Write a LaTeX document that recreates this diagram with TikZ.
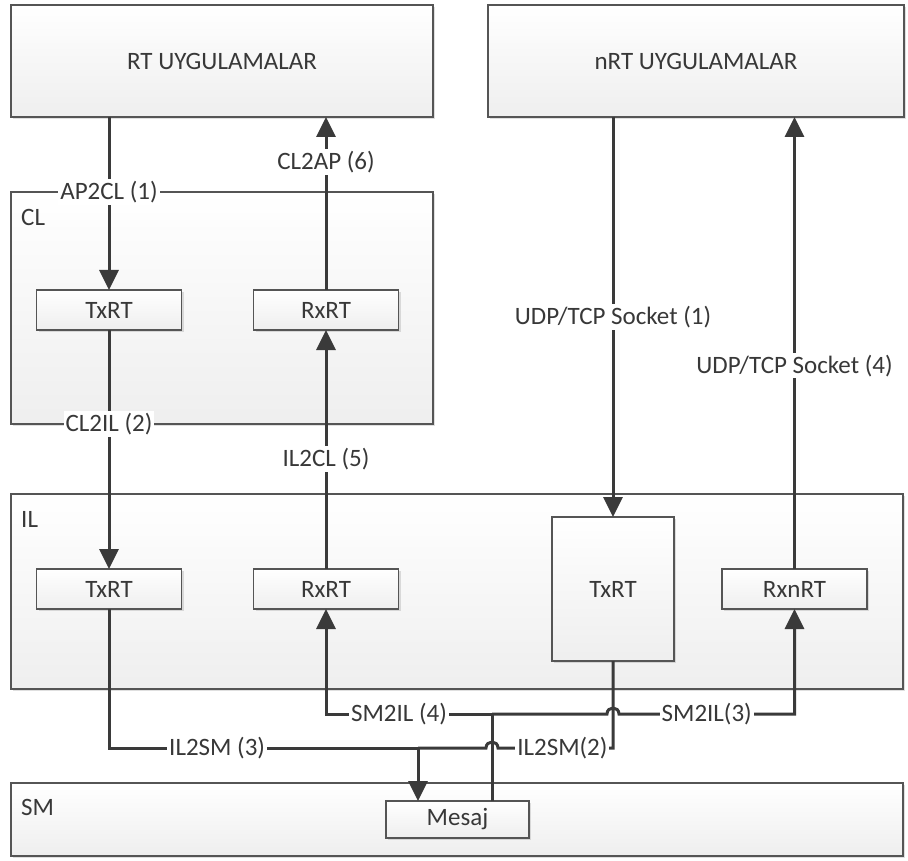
\documentclass[tikz,border=0pt]{standalone}
\usepackage{fontspec}
\setmainfont{Carlito}
\usetikzlibrary{positioning, arrows.meta, shadows}

\definecolor{line_gray}{HTML}{3A3A3A}
\definecolor{border_gray}{HTML}{555555}
\definecolor{text_gray}{HTML}{383838}

\begin{document}
\begin{tikzpicture}[
        x=1pt, y=-1pt,
        font=\fontsize{25}{29}\selectfont, text=text_gray,
        % Define styles for the nodes
        base_node/.style={draw=border_gray, line width=1.4pt, top color=white, bottom color=gray!13, inner sep=0pt, outer sep=0pt,
            drop shadow={shadow xshift=2pt, shadow yshift=-2pt, opacity=0.25, fill=gray}},
        app_box/.style={base_node, minimum height=112pt},
        layer_box/.style={base_node, minimum width=892pt},
        unit_box/.style={base_node, minimum width=145pt, minimum height=40pt},
        layer_title/.style={anchor=north west, inner sep=0pt},
        link/.style={draw=line_gray, line width=3pt},
        arrow/.style={link, -{Triangle[length=20pt, width=19pt]}},
        link_label/.style={fill=white, inner sep=2pt}
    ]
    \useasboundingbox (0,0) rectangle (908,861);

    % ==============================================
    % === SCOPE FOR LAYERS (applications, CL, IL, SM) ===
    % ==============================================
    \begin{scope}
        \node (rtapp) [app_box, minimum width=422pt] at (222,61) {RT UYGULAMALAR};
        \node (nrtapp) [app_box, minimum width=416pt] at (696,61) {nRT UYGULAMALAR};

        \node (cl) [base_node, minimum width=422pt, minimum height=232pt] at (222,308) {};
        \node (il) [layer_box, minimum height=195pt] at (457,591.5) {};
        \node (sm) [layer_box, minimum height=73pt] at (457,819.5) {};

        \node (cl_title) [layer_title] at ([xshift=10pt, yshift=-17pt]cl.north west) {CL};
        \node (il_title) [layer_title] at ([xshift=10pt, yshift=-17pt]il.north west) {IL};
        \node (sm_title) [layer_title] at ([xshift=10pt, yshift=-16pt]sm.north west) {SM};
    \end{scope}

    % ===============================================
    % === SCOPE FOR UNITS (TxRT, RxRT, RxnRT, Mesaj) ===
    % ===============================================
    \begin{scope}
        \node (cltx) [unit_box] at (109,310) {TxRT};
        \node (clrx) [unit_box, right=72pt of cltx] {RxRT};

        \node (iltx) [unit_box, below=239pt of cltx] {TxRT};
        \node (ilrx) [unit_box, right=72pt of iltx] {RxRT};

        \node (nrttx) [base_node, minimum width=122pt, minimum height=144pt] at (613,589) {TxRT};
        \node (rxnrt) [unit_box, right=48pt of nrttx] {RxnRT};

        \node (mesaj) [unit_box, minimum width=143pt, minimum height=37pt] at (457.5,819.5) {Mesaj};
    \end{scope}

    % ===============================================
    % === CONNECTORS ===
    % ===============================================
    % RT path through CL
    \draw [arrow] (cltx.north |- rtapp.south) -- (cltx.north |- cl.north) node [link_label] {AP2CL (1)} -- (cltx.north);
    \draw [arrow] (clrx.north) -- node [link_label, pos=0.74] {CL2AP (6)} (clrx.north |- rtapp.south);
    \draw [arrow] (cltx.south) -- (cltx.south |- cl.south) node [link_label] {CL2IL (2)} -- (iltx.north);
    \draw [arrow] (ilrx.north) -- node [link_label, pos=0.46] {IL2CL (5)} (clrx.south);

    % nRT sockets
    \draw [arrow] (nrttx.north |- nrtapp.south) -- node [link_label] {UDP/TCP Socket (1)} (nrttx.north);
    \draw [arrow] (rxnrt.north) -- node [link_label, pos=0.45] {UDP/TCP Socket (4)} (rxnrt.north |- nrtapp.south);

    % Down to SM, with hops over crossing lines
    \coordinate (join) at (418,748);
    \coordinate (tee) at (492,714);
    \draw [link] (iltx.south) |- node [link_label, pos=0.675] {IL2SM (3)} (join);
    \draw [link] (nrttx.south) |- node [link_label, pos=0.72] {IL2SM(2)} (498,748) .. controls (498,740) and (486,740) .. (486,748) -- (join);
    \draw [arrow] (join) -- (join |- mesaj.north);

    % Up from SM
    \draw [link] (tee |- mesaj.north) -- (tee);
    \draw [arrow] (tee) -| node [link_label, pos=0.28] {SM2IL (4)} (ilrx.south);
    \draw [arrow] (tee) -- (607,714) .. controls (607,706) and (619,706) .. (619,714) -| node [link_label, pos=0.25] {SM2IL(3)} (rxnrt.south);

\end{tikzpicture}
\end{document}
